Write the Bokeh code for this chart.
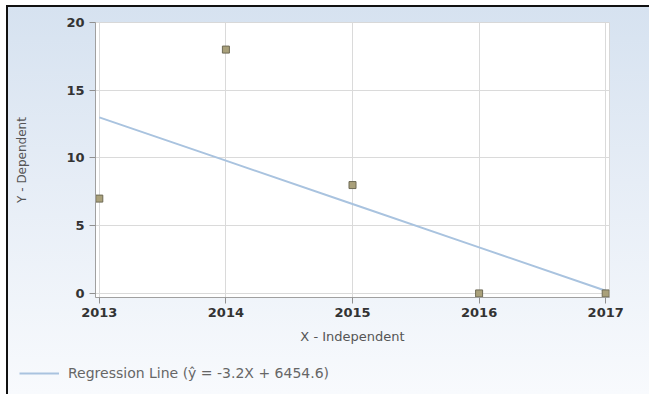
from bokeh.plotting import figure
from bokeh.layouts import column
from bokeh.models import FixedTicker, Legend, LegendItem, Range1d
from bokeh.embed import file_html
from bokeh.resources import INLINE

years = [2013, 2014, 2015, 2016, 2017]
y_values = [7, 18, 8, 0, 0]
slope = -3.2
intercept = 6454.6
y_ticks = [0, 5, 10, 15, 20]
legend_label = "Regression Line (\u0177 = -3.2X + 6454.6)"
line_color = "#a9c3df"

p = figure(width=641, height=343, output_backend="svg", toolbar_location=None,
           x_range=Range1d(2012.97, 2017.03), y_range=Range1d(-0.3, 20),
           min_border_left=87, min_border_top=15, min_border_right=40, min_border_bottom=53)
p.background_fill_color = "white"
p.border_fill_color = None
p.outline_line_color = "#d8d8d8"

reg_y = [slope * x + intercept for x in years]
p.line(years, reg_y, line_color=line_color, line_width=2)
p.scatter(years, y_values, marker="square", size=7, fill_color="#a9a07a",
          line_color="#6e6a55", line_width=1)

for ax in (p.xaxis[0], p.yaxis[0]):
    ax.major_label_text_font = "DejaVu Sans"
    ax.major_label_text_font_style = "bold"
    ax.major_label_text_font_size = "13px"
    ax.major_label_text_color = "#333333"
    ax.axis_line_color = "#a0a0a0"
    ax.major_tick_line_color = "#909090"
    ax.major_tick_out = 6
    ax.major_tick_in = 0
    ax.minor_tick_line_color = None
    ax.axis_label_text_font = "DejaVu Sans"
    ax.axis_label_text_font_style = "normal"
    ax.axis_label_text_color = "#555555"

p.xaxis.ticker = FixedTicker(ticks=years)
p.yaxis.ticker = FixedTicker(ticks=y_ticks)
p.xaxis.axis_label = "X - Independent"
p.yaxis.axis_label = "Y - Dependent"
p.xaxis.axis_label_text_font_size = "13px"
p.yaxis.axis_label_text_font_size = "12px"
p.xaxis.major_label_standoff = 4
p.yaxis.major_label_standoff = 5
p.xaxis.axis_label_standoff = 9
p.yaxis.axis_label_standoff = 34
p.xgrid.grid_line_color = "#dadada"
p.ygrid.grid_line_color = "#dadada"

# legend strip below the chart
p2 = figure(width=641, height=44, output_backend="svg", toolbar_location=None,
            x_range=Range1d(10, 11), y_range=Range1d(10, 11),
            x_axis_type=None, y_axis_type=None,
            min_border_left=0, min_border_right=0, min_border_top=0, min_border_bottom=0)
p2.background_fill_color = None
p2.border_fill_color = None
p2.outline_line_color = None
p2.grid.visible = False
p2.styles = {"transform": "translateX(-88px)"}
leg_line = p2.line([0, 1], [0, 0], line_color=line_color, line_width=2)
legend = Legend(items=[LegendItem(label=legend_label, renderers=[leg_line])],
                location=(12, 13), orientation="horizontal",
                border_line_color=None, background_fill_alpha=0,
                label_text_font="DejaVu Sans", label_text_font_size="14px",
                label_text_color="#666666", glyph_width=40, glyph_height=12,
                label_standoff=9, padding=0, margin=0)
p2.add_layout(legend, "center")

layout = column(p, p2, spacing=0)
layout.margin = (5, 0, 0, 6)
layout.styles = {"border-left": "2px solid #111", "border-top": "2px solid #111",
                 "background": "linear-gradient(to bottom, #d6e2f0 0%, #e6edf6 45%, #f8fafd 100%)"}

open("out.html", "w").write(file_html(layout, INLINE))
